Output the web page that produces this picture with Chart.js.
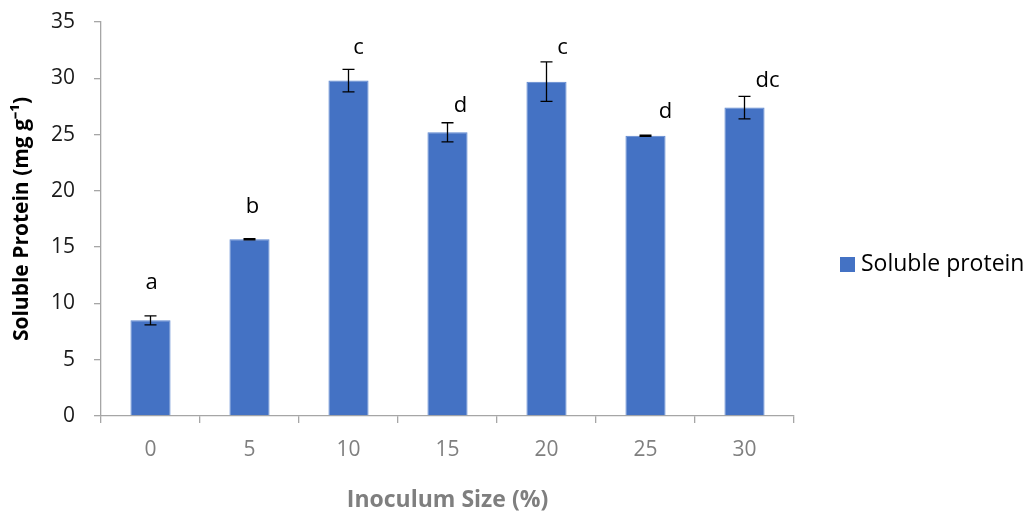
<!DOCTYPE html>
<html>
<head>
<meta charset="utf-8">
<script src="https://cdn.jsdelivr.net/npm/chart.js@4"></script>
<style>
  html, body { margin: 0; padding: 0; background: #fff; }
  #wrap { width: 1035px; height: 514px; }
</style>
</head>
<body>
<div id="wrap"><canvas id="graph"></canvas></div>
<script>
// data
const tamanos = ['0', '5', '10', '15', '20', '25', '30']
const proteina = [8.5, 15.7, 29.8, 25.2, 29.7, 24.9, 27.4]
const errores = [0.4, 0.05, 1.0, 0.85, 1.75, 0.05, 1.0]
const letras = ['a', 'b', 'c', 'd', 'c', 'd', 'dc']
const alturaLetras = [11.8, 18.6, 32.7, 27.6, 32.7, 27.0, 29.8]
const ticksY = [0, 5, 10, 15, 20, 25, 30, 35]

const azul = '#4472C4'
const gris = '#a6a6a6'

// error bars + letters over the bars
const extras = {
  id: 'extras',
  afterDatasetsDraw(chart) {
    const ctx = chart.ctx
    const x = chart.scales.x, y = chart.scales.y
    ctx.save()
    ctx.strokeStyle = '#000'
    ctx.lineWidth = 1.3
    proteina.forEach((v, i) => {
      const cx = x.getPixelForValue(i)
      const top = y.getPixelForValue(v + errores[i])
      const bot = y.getPixelForValue(v - errores[i])
      ctx.beginPath()
      ctx.moveTo(cx, top); ctx.lineTo(cx, bot)
      ctx.moveTo(cx - 6, top); ctx.lineTo(cx + 6, top)
      ctx.moveTo(cx - 6, bot); ctx.lineTo(cx + 6, bot)
      ctx.stroke()
    })
    ctx.fillStyle = '#000'
    ctx.font = '22px "Open Sans"'
    ctx.textAlign = 'center'
    ctx.textBaseline = 'middle'
    letras.forEach((l, i) => {
      const off = [1, 3, 10, 13, 16, 20, 23][i]
      ctx.fillText(l, x.getPixelForValue(i) + off, y.getPixelForValue(alturaLetras[i]))
    })
    // legend
    ctx.fillStyle = azul
    ctx.fillRect(840, 257, 15, 15)
    ctx.fillStyle = '#000'
    ctx.textAlign = 'left'
    ctx.font = '23px "Open Sans"'
    ctx.fillText(chart.data.datasets[0].label, 861, 264)
    ctx.restore()
  }
}

const data = {
  labels: tamanos,
  datasets: [{
    label: 'Soluble protein',
    data: proteina,
    backgroundColor: azul,
    borderColor: '#5b86d0',
    borderWidth: 1,
    barPercentage: 0.405,
    categoryPercentage: 1
  }]
}

const config = {
  type: 'bar',
  data: data,
  options: {
    responsive: true,
    maintainAspectRatio: false,
    animation: false,
    layout: { padding: { left: 0, right: 241, top: 22, bottom: 0 } },
    plugins: {
      legend: { display: false },
      tooltip: { enabled: false }
    },
    scales: {
      x: {
        offset: true,
        grid: { drawOnChartArea: false, offset: true, color: gris, tickLength: 7, lineWidth: 1.3 },
        border: { color: gris, width: 1.3 },
        ticks: { color: '#7f7f7f', font: { family: 'Open Sans', size: 21 }, padding: 14 },
        title: {
          display: true, text: 'Inoculum Size (%)', color: '#7f7f7f',
          font: { family: 'Open Sans', size: 23, weight: 'bold' },
          padding: { top: 0, bottom: 0 }
        },
        afterFit(s) { s.height = 98 }
      },
      y: {
        min: 0, max: 35,
        afterBuildTicks(s) { s.ticks = ticksY.map(v => ({ value: v })) },
        grid: { drawOnChartArea: false, color: gris, tickLength: 7, lineWidth: 1.3 },
        border: { color: gris, width: 1.3 },
        ticks: { color: '#1a1a1a', font: { family: 'Open Sans', size: 21 }, padding: 19 },
        title: {
          display: true, text: 'Soluble Protein (mg g⁻¹)', color: '#000',
          font: { family: 'Open Sans', size: 21, weight: 'bold' },
          padding: { top: 9, bottom: 0 }
        },
        afterFit(s) {
          s.width = 101
          s.paddingTop = 0
          s.paddingBottom = 0
        }
      }
    }
  },
  plugins: [extras]
}

const myChart = new Chart(document.getElementById('graph'), config)
</script>
</body>
</html>
